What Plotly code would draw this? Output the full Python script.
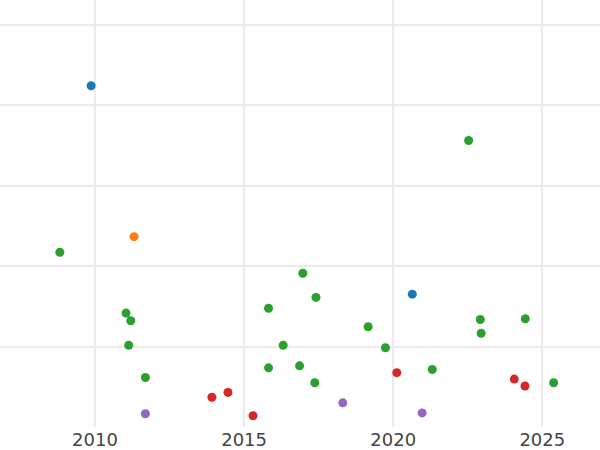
import plotly.graph_objects as go

blue_x = [2009.87, 2020.64]
blue_y = [84.8, 33.0]
orange_x = [2011.31]
orange_y = [47.3]
green_x = [2008.82, 2022.53, 2011.04, 2011.20, 2011.13, 2011.69, 2015.82, 2016.97,
           2016.31, 2015.82, 2016.86, 2017.41, 2017.37, 2019.16, 2019.74, 2021.31,
           2022.92, 2022.95, 2024.43, 2025.38]
green_y = [43.4, 71.2, 28.3, 26.4, 20.3, 12.3, 29.5, 38.2,
           20.3, 14.7, 15.2, 32.2, 11.0, 24.9, 19.7, 14.3,
           26.7, 23.3, 26.9, 11.0]
red_x = [2013.92, 2014.46, 2015.30, 2020.12, 2024.06, 2024.42]
red_y = [7.4, 8.6, 2.8, 13.5, 11.9, 10.2]
purple_x = [2011.69, 2018.31, 2020.97]
purple_y = [3.3, 6.0, 3.5]

series = [
    (blue_x, blue_y, "#1f77b4"),
    (orange_x, orange_y, "#ff7f0e"),
    (green_x, green_y, "#2ca02c"),
    (red_x, red_y, "#d62728"),
    (purple_x, purple_y, "#9467bd"),
]

fig = go.Figure()
for xs, ys, c in series:
    fig.add_trace(go.Scatter(x=xs, y=ys, mode="markers",
                             marker=dict(color=c, size=9, line=dict(width=0))))

fig.update_layout(
    width=600, height=450,
    margin=dict(l=0, r=0, t=0, b=23),
    paper_bgcolor="white", plot_bgcolor="white",
    showlegend=False,
    font=dict(family="DejaVu Sans", size=18, color="#444444"),
)
fig.update_xaxes(range=[2006.814, 2026.935], tickvals=[2010, 2015, 2020, 2025],
                 showgrid=True, gridcolor="#ebebeb", gridwidth=1.5, zeroline=False,
                 showline=False, ticks="")
fig.update_yaxes(range=[0, 106.1], tickvals=[20, 40, 60, 80, 100], showticklabels=False,
                 showgrid=True, gridcolor="#ebebeb", gridwidth=1.5, zeroline=False,
                 showline=False, ticks="")
fig.write_html("out.html", config={"displayModeBar": False},
               post_script="document.body.style.margin='0';document.body.style.overflow='hidden';")
